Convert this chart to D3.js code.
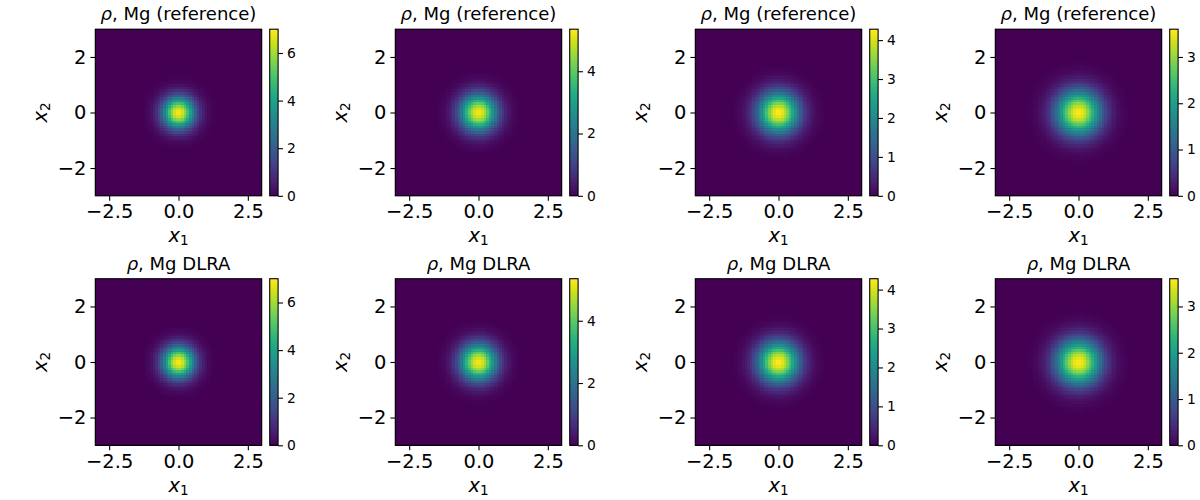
<!DOCTYPE html>
<html><head><meta charset="utf-8">
<script src="https://cdnjs.cloudflare.com/ajax/libs/d3/7.8.5/d3.min.js"></script>
<style>
html,body{margin:0;padding:0;background:#fff}
svg{display:block}
text{font-family:"DejaVu Sans",sans-serif;fill:#000}
.domain{display:none}
.tick line{stroke:#000;stroke-width:1.1px}
</style></head><body>
<svg id="fig" width="1200" height="500"></svg>
<script>
const rowTitles = ["Mg (reference)", "Mg DLRA"];
const radii = [0,.1,.2,.3,.4,.5,.6,.7,.8,.9,1,1.1,1.2,1.3,1.4,1.5,1.6,1.7,1.8,1.9,2,2.1,2.2,4.5];
const rhoPanel1 = [7,6.78,6.18,5.28,4.25,3.2,2.27,1.51,.95,.56,.31,.16,.08,.04,.015,.006,0,0,0,0,0,0,0,0];
const rhoPanel2 = [5.3,5.18,4.82,4.28,3.62,2.92,2.25,1.65,1.15,.77,.49,.3,.17,.095,.05,.025,.012,.005,0,0,0,0,0,0];
const rhoPanel3 = [4.3,4.22,3.98,3.62,3.16,2.66,2.15,1.68,1.26,.91,.63,.42,.27,.17,.1,.057,.031,.017,.008,.004,0,0,0,0];
const rhoPanel4 = [3.6,3.54,3.38,3.11,2.78,2.41,2.01,1.63,1.28,.98,.72,.51,.35,.235,.15,.095,.058,.034,.02,.011,.006,.003,0,0];
const profiles = [rhoPanel1, rhoPanel2, rhoPanel3, rhoPanel4];
const colorMax = [7.0, 5.35, 4.28, 3.6];
const colorTicks = [[0,2,4,6],[0,2,4],[0,1,2,3,4],[0,1,2,3]];
const xTicks = [-2.5,0,2.5];
const yTicks = [-2,0,2];

const panelW = 166.4, panelH = 166.6, cbW = 8.4, cbGap = 8;
const colX = [95.3,395.3,695.3,995.3];
const rowY = [29.2,278.7];
const nCells = 64;
const svg = d3.select("#fig");

function mathLabel(g, x, y, sub, rotate){
  const t = g.append("text").attr("font-size",19.44).attr("text-anchor","middle")
    .attr("transform",`translate(${x},${y})`+(rotate?" rotate(-90)":""));
  t.append("tspan").attr("font-style","italic").text("x");
  t.append("tspan").attr("font-size",13.6).attr("dy",3).text(sub);
}

rowTitles.forEach((title,r)=>{
  colX.forEach((x0,c)=>{
    const y0 = rowY[r];
    const g = svg.append("g").attr("transform",`translate(${x0},${y0})`);
    const x = d3.scaleLinear().domain([-3,3]).range([0,panelW]);
    const y = d3.scaleLinear().domain([-3,3]).range([panelH,0]);
    const rho = d3.scaleLinear().domain(radii).range(profiles[c]).clamp(true);
    const col = d3.scaleSequential(d3.interpolateViridis).domain([0,colorMax[c]]);
    const step = 6/nCells;
    const centers = d3.range(nCells).map(i=>-3+step*(i+.5));
    const cells = centers.flatMap(a=>centers.map(b=>[a,b]));
    g.append("g").attr("shape-rendering","crispEdges").selectAll("rect").data(cells).join("rect")
      .attr("x",d=>x(d[0]-step/2)).attr("y",d=>y(d[1]+step/2))
      .attr("width",x(step)-x(0)+.3).attr("height",y(0)-y(step)+.3)
      .attr("fill",d=>col(rho(Math.hypot(d[0],d[1]))));
    g.append("rect").attr("width",panelW).attr("height",panelH).attr("fill","none").attr("stroke","#000").attr("stroke-width",1.1);
    g.append("g").attr("transform",`translate(0,${panelH})`)
      .call(d3.axisBottom(x).tickValues(xTicks).tickFormat(d3.format(".1f")).tickSize(4.86).tickPadding(4))
      .call(a=>a.selectAll("text").attr("font-size",19.44).style("font-family",'"DejaVu Sans"'));
    g.append("g")
      .call(d3.axisLeft(y).tickValues(yTicks).tickFormat(d3.format("d")).tickSize(4.86).tickPadding(4))
      .call(a=>a.selectAll("text").attr("font-size",19.44).style("font-family",'"DejaVu Sans"'));
    const t = g.append("text").attr("x",panelW/2).attr("y",-9).attr("text-anchor","middle").attr("font-size",18.05);
    t.append("tspan").attr("font-style","italic").text("ρ");
    t.append("tspan").text(", "+title);
    mathLabel(g, panelW/2, panelH+46.5, "1", false);
    mathLabel(g, -48, panelH/2, "2", true);

    const cb = g.append("g").attr("transform",`translate(${panelW+cbGap},0)`);
    const cy = d3.scaleLinear().domain([0,colorMax[c]]).range([panelH,0]);
    const levels = d3.range(128).map(i=>colorMax[c]*i/128);
    cb.append("g").attr("shape-rendering","crispEdges").selectAll("rect").data(levels).join("rect")
      .attr("x",0).attr("width",cbW)
      .attr("y",d=>cy(d+colorMax[c]/128)).attr("height",panelH/128+.4)
      .attr("fill",d=>col(d+colorMax[c]/256));
    cb.append("rect").attr("width",cbW).attr("height",panelH).attr("fill","none").attr("stroke","#000").attr("stroke-width",1.1);
    cb.append("g").attr("transform",`translate(${cbW},0)`)
      .call(d3.axisRight(cy).tickValues(colorTicks[c]).tickFormat(d3.format("d")).tickSize(4.86).tickPadding(4))
      .call(a=>a.selectAll("text").attr("font-size",13.89).style("font-family",'"DejaVu Sans"'));
  });
});
</script></body></html>
